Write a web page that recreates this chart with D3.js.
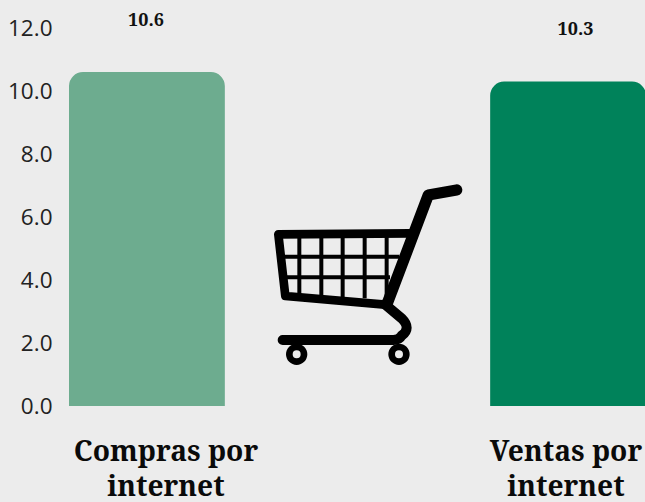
<!DOCTYPE html>
<html><head><meta charset="utf-8">
<script src="https://cdnjs.cloudflare.com/ajax/libs/d3/7.8.5/d3.min.js"></script>
<style>html,body{margin:0;padding:0;background:#ececec;overflow:hidden}svg{display:block}</style>
</head><body><div id="chart"></div>
<script>
const categories = ["Compras por internet", "Ventas por internet"];
const values = [10.6, 10.3];
const barColors = ["#6dac8f", "#00825a"];
const yTicks = [0, 2, 4, 6, 8, 10, 12];
const categoryLines = [["Compras por", "internet"], ["Ventas por", "internet"]];

const W = 645, H = 502;
const serif = '"Noto Serif","DejaVu Serif Condensed","DejaVu Serif",serif';
const svg = d3.select("#chart").append("svg").attr("width", W).attr("height", H);
svg.append("rect").attr("width", W).attr("height", H).attr("fill", "#ececec");

const y = d3.scaleLinear().domain([0, 12]).range([406, 28]);
const x = d3.scaleBand().domain(categories).range([69, 646]).paddingInner(0.63).paddingOuter(0);

const axis = svg.append("g").attr("transform", "translate(52.5,0.5)")
  .call(d3.axisLeft(y).tickValues(yTicks).tickFormat(d3.format(".1f")).tickSize(0).tickPadding(0));
axis.select(".domain").remove();
axis.selectAll("text").attr("font-family", '"Open Sans",sans-serif').attr("font-weight", 400).attr("font-size", 22.5).attr("fill", "#222");

function topRounded(x0, y0, w, y1, r) {
  const p = d3.path();
  p.moveTo(x0, y1); p.lineTo(x0, y0 + r);
  p.arcTo(x0, y0, x0 + r, y0, r);
  p.lineTo(x0 + w - r, y0);
  p.arcTo(x0 + w, y0, x0 + w, y0 + r, r);
  p.lineTo(x0 + w, y1); p.closePath();
  return p.toString();
}
svg.selectAll("path.bar").data(categories).join("path").attr("class", "bar")
  .attr("d", (c, i) => topRounded(x(c), y(values[i]), x.bandwidth(), y(0), 14))
  .attr("fill", (c, i) => barColors[i]);

const labelX = [146, 575.5], labelY = [20, 29];
svg.selectAll("text.val").data(values).join("text").attr("class", "val")
  .attr("x", (d, i) => labelX[i]).attr("y", (d, i) => labelY[i]).attr("dy", "0.35em")
  .attr("text-anchor", "middle").attr("font-family", serif).attr("font-weight", 700)
  .attr("font-size", 18).attr("fill", "#111").text(d => d.toFixed(1));

const catX = [166, 566];
categoryLines.forEach((lines, i) => lines.forEach((t, j) => {
  svg.append("text").attr("x", catX[i]).attr("y", 461 + j * 35)
    .attr("text-anchor", "middle").attr("font-family", serif).attr("font-weight", 700)
    .attr("font-size", 28.2).attr("fill", "#0a0a0a").text(t);
}));

// shopping cart icon
const cart = svg.append("g").attr("transform", "translate(260,170) scale(0.3333)")
  .attr("fill", "none").attr("stroke", "#000").attr("stroke-linecap", "round").attr("stroke-linejoin", "round");
cart.append("path").attr("stroke-width", 34).attr("d", "M590,60 L505,75 L382,400");
cart.append("path").attr("stroke-width", 26).attr("d", "M450,190 L55,193 L76,378 L375,404");
cart.append("path").attr("stroke-width", 30).attr("d", "M375,403 L425,445 Q455,475 425,497 Q418,510 400,510 L68,510");
[118, 184, 248, 314, 380].forEach(v => cart.append("line").attr("x1", v).attr("x2", v).attr("y1", 195).attr("y2", 385)
  .attr("stroke-width", 12).attr("stroke-linecap", "butt"));
cart.append("line").attr("x1", 68).attr("x2", 418).attr("y1", 260).attr("y2", 260).attr("stroke-width", 12).attr("stroke-linecap", "butt");
cart.append("line").attr("x1", 72).attr("x2", 390).attr("y1", 322).attr("y2", 322).attr("stroke-width", 12).attr("stroke-linecap", "butt");
[110, 417].forEach(v => cart.append("circle").attr("cx", v).attr("cy", 553).attr("r", 22).attr("stroke-width", 20));
</script></body></html>
